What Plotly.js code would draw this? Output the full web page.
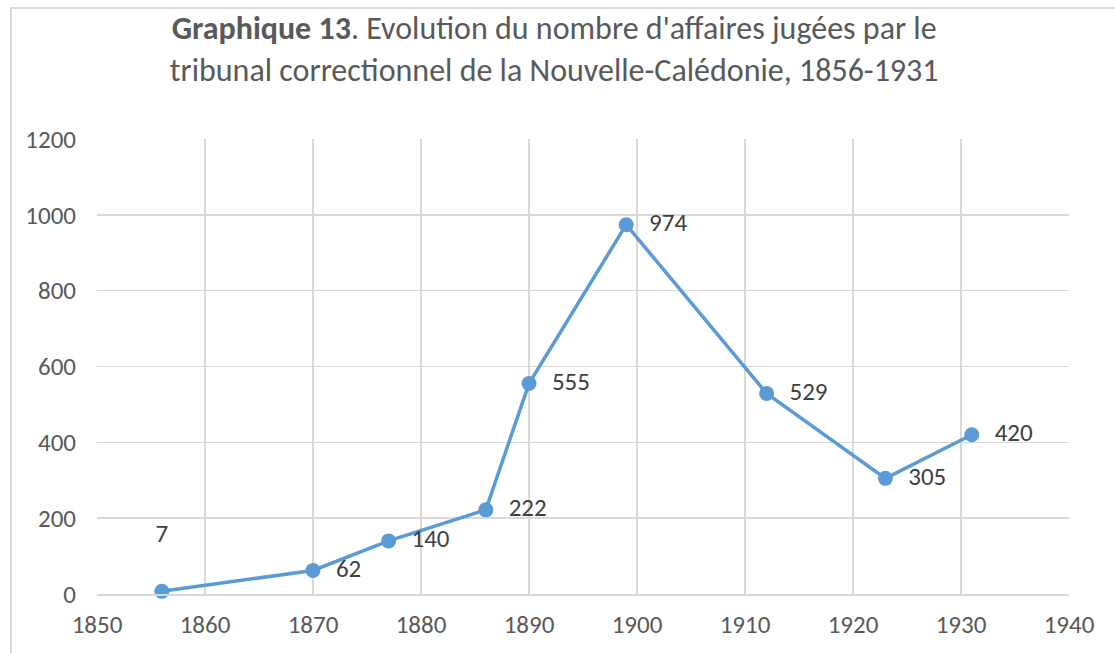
<!DOCTYPE html>
<html><head><meta charset="utf-8">
<script src="https://cdn.plot.ly/plotly-3.0.1.min.js"></script>
<style>
html,body{margin:0;padding:0;background:#fff;overflow:hidden}
#frame{position:absolute;left:10px;top:7px;width:1200px;height:700px;border:2px solid #d9d9d9;box-sizing:border-box}
#chart{position:absolute;left:0;top:0;width:1115px;height:653px}
</style></head>
<body>
<div id="frame"></div>
<div id="chart"></div>
<script>
const years = [1856, 1870, 1877, 1886, 1890, 1899, 1912, 1923, 1931];
const affaires = [7, 62, 140, 222, 555, 974, 529, 305, 420];
const labelPositions = ['top center','middle right','middle right','middle right','middle right','middle right','middle right','middle right','middle right'];
const xTicks = [1850,1860,1870,1880,1890,1900,1910,1920,1930,1940];
const yTicks = [0,200,400,600,800,1000,1200];

const FONT = 'Carlito, Lato, "Open Sans", sans-serif';
const trace = {
  x: years, y: affaires, type: 'scatter', mode: 'lines+markers+text',
  text: affaires.map(v => '\u2002' + v + ' '), textposition: labelPositions,
  textfont: {family: FONT, size: 25, color: '#404040'},
  line: {color: '#5b9bd5', width: 3.5},
  marker: {color: '#5b9bd5', size: 15},
  cliponaxis: false, hoverinfo: 'x+y'
};
trace.text[0] = '7<br> ';
const layout = {
  width: 1115, height: 653,
  margin: {l: 97, r: 46, t: 139, b: 59},
  paper_bgcolor: 'rgba(0,0,0,0)', plot_bgcolor: 'rgba(0,0,0,0)',
  showlegend: false,
  title: {
    text: '<b>Graphique 13</b>. Evolution du nombre d\'affaires jugées par le<br>tribunal correctionnel de la Nouvelle-Calédonie, 1856-1931',
    font: {family: FONT, size: 32, color: '#595959'},
    x: 0.497, xanchor: 'center', y: 0.94, yanchor: 'top'
  },
  xaxis: {
    range: [1850, 1940], tickvals: xTicks, ticktext: xTicks.map(String),
    showgrid: true, gridcolor: '#d9d9d9', gridwidth: 1.5,
    showline: true, linecolor: '#d9d9d9', linewidth: 1.5, mirror: false,
    zeroline: false, ticks: '', ticklen: 0,
    tickfont: {family: FONT, size: 25, color: '#595959'},
    ticklabelstandoff: 7
  },
  yaxis: {
    range: [0, 1200], tickvals: yTicks, ticktext: yTicks.map(String),
    showgrid: true, gridcolor: '#d9d9d9', gridwidth: 1.5,
    showline: false, zeroline: false, ticks: '',
    tickfont: {family: FONT, size: 25, color: '#595959'},
    ticklabelstandoff: 20
  }
};
Plotly.newPlot('chart', [trace], layout, {displayModeBar: false, staticPlot: true});
</script>
</body></html>
